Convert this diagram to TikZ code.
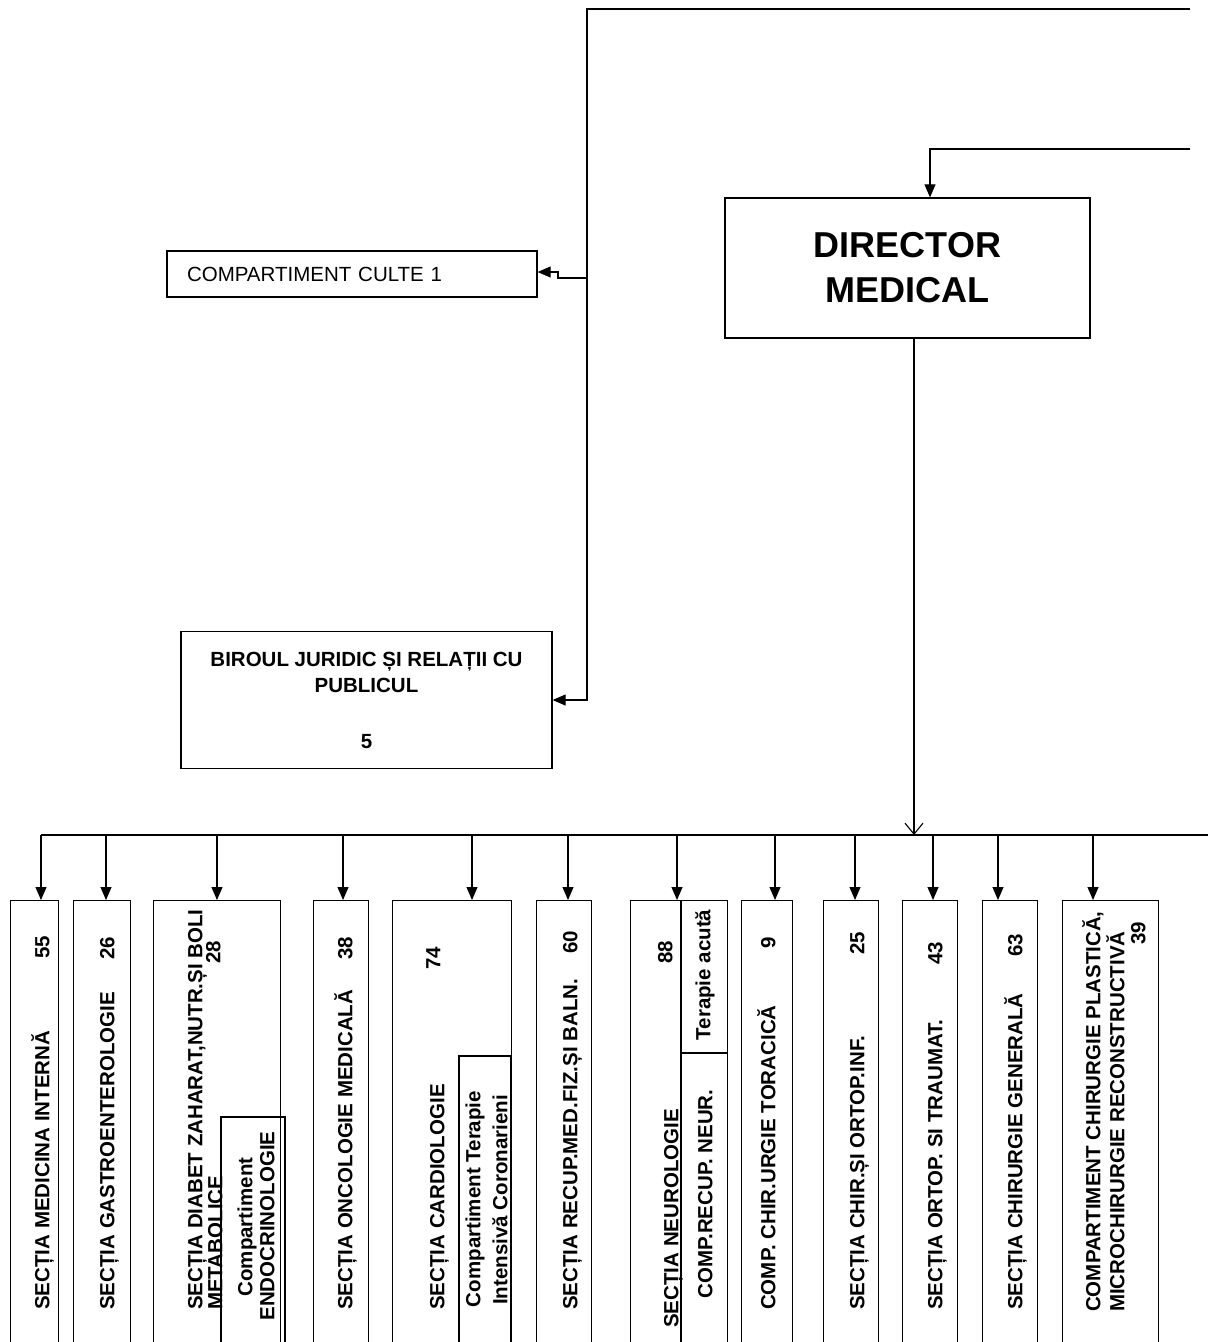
\documentclass[tikz,border=0pt]{standalone}
\usepackage{fontspec}
\setmainfont{Liberation Sans}
\usetikzlibrary{arrows.meta}
\begin{document}
\begin{tikzpicture}[x=1pt,y=-1pt,
  box/.style={draw, line width=1.3pt, inner sep=0pt},
  conn/.style={line width=1.1pt},
  arr/.style={conn, -{Triangle[length=13pt,width=11pt]}},
  varr/.style={conn, -{Straight Barb[length=11pt,width=18pt,line width=1.1pt]}},
  lbl/.style={font=\fontsize{20.5}{24}\selectfont\bfseries, inner sep=0pt},
  vt/.style={lbl, rotate=90, anchor=west, text height=14.7pt, text depth=0pt},
  vc/.style={lbl, rotate=90, anchor=center, text height=14.7pt, text depth=0pt},
]
\fill[white] (0,0) rectangle (1208,1342);
\useasboundingbox (0,0) rectangle (1208,1342);

% upper boxes
\node[box, minimum width=365pt, minimum height=140pt, align=center,
      font=\fontsize{36}{45}\selectfont\bfseries] (dir) at (907.5,268) {DIRECTOR\\MEDICAL};
\node[box, minimum width=370pt, minimum height=46pt, text width=330pt, inner xsep=20pt,
      align=left, font=\fontsize{20.5}{24}\selectfont] (culte) at (352,274) {COMPARTIMENT CULTE 1};
\node[box, minimum width=371pt, minimum height=137pt, align=center,
      font=\fontsize{20.5}{26}\selectfont\bfseries] (birou) at (366.5,700)
      {BIROUL JURIDIC ȘI RELAȚII CU\\PUBLICUL\\[30pt]5};

% upper connectors
\coordinate (t1R) at (1190,9);
\coordinate (t1L) at (587,9);
\coordinate (vB) at (587,700);
\draw[arr] (t1R) -- (t1L) -- (vB) -- (vB -| birou.east);
\coordinate (vC) at (587,278);
\coordinate (jC) at (558,278);
\coordinate (jC2) at (558,272);
\draw[arr] (vC) -- (jC) -- (jC2) -- (jC2 -| culte.east);
\coordinate (t2R) at (1190,149);
\coordinate (t2L) at (930,149);
\draw[arr] (t2R) -- (t2L) -- (t2L |- dir.north);

% bus
\coordinate (dS) at ([xshift=6.5pt]dir.south);
\coordinate (busL) at (41,835);
\coordinate (busR) at (1208,835);
\draw[conn] (busL) -- (busR);
\draw[varr] (dS) -- (dS |- busL);

% department boxes
\foreach \n/\a/\b/\ax in {A/10/58/41, B/73/130/106, C/153/280/217, D/313/368/343,
  E/392/511/472, F/536/591/568, G/630/727/677, H/741/792/775, I/823/878/855,
  J/902/957/933, K/982/1037/998, L/1062/1158/1093} {
  \pgfmathsetmacro\w{\b-\a}
  \node[box, minimum width=\w pt, minimum height=450pt, anchor=north west] (\n) at (\a,900) {};
  \coordinate (b\n) at (\ax,835);
  \draw[arr] (b\n) -- (b\n |- \n.north);
}
% sub-compartments
\draw[box] (221,1117) rectangle (285,1350);
\draw[box] (459,1056) rectangle (511,1350);
\draw[box] (681,900) -- (681,1350);
\draw[box] (681,1053) -- (727,1053);

% texts
\node[vt] at (42,1310) {SECȚIA MEDICINA INTERNĂ};
\node[vc] at (42,947) {55};
\node[vt] at (107,1310) {SECȚIA GASTROENTEROLOGIE};
\node[vc] at (107,948) {26};
\node[vt] at (195,1310) {SECȚIA DIABET ZAHARAT,NUTR.ȘI BOLI};
\node[vt] at (215,1310) {METABOLICE};
\node[vc] at (213,952) {28};
\node[vc] at (245,1227) {Compartiment};
\node[vc] at (267,1226) {ENDOCRINOLOGIE};
\node[vt] at (345,1310) {SECȚIA ONCOLOGIE MEDICALĂ};
\node[vc] at (345,948) {38};
\node[vt] at (437,1310) {SECȚIA CARDIOLOGIE};
\node[vc] at (433,958) {74};
\node[vc] at (473,1199) {Compartiment Terapie};
\node[vc] at (500,1200) {Intensivă Coronarieni};
\node[vt] at (570,1310) {SECȚIA RECUP.MED.FIZ.ȘI BALN.};
\node[vc] at (570,942) {60};
\node[vt] at (671,1328) {SECȚIA NEUROLOGIE};
\node[vc] at (665,952) {88};
\node[vc] at (703,975) {Terapie acută};
\node[vc] at (705,1194) {COMP.RECUP. NEUR.};
\node[vt] at (768,1310) {COMP. CHIR.URGIE TORACICĂ};
\node[vc] at (768,943) {9};
\node[vt] at (857,1310) {SECȚIA CHIR.ȘI ORTOP.INF.};
\node[vc] at (857,943) {25};
\node[vt] at (935,1310) {SECȚIA ORTOP. SI TRAUMAT.};
\node[vc] at (935,953) {43};
\node[vt] at (1015,1310) {SECȚIA CHIRURGIE GENERALĂ};
\node[vc] at (1015,945) {63};
\node[vt] at (1093,1312) {COMPARTIMENT CHIRURGIE PLASTICĂ,};
\node[vt] at (1117,1312) {MICROCHIRURGIE RECONSTRUCTIVĂ};
\node[vc] at (1138,933) {39};
\end{tikzpicture}
\end{document}
